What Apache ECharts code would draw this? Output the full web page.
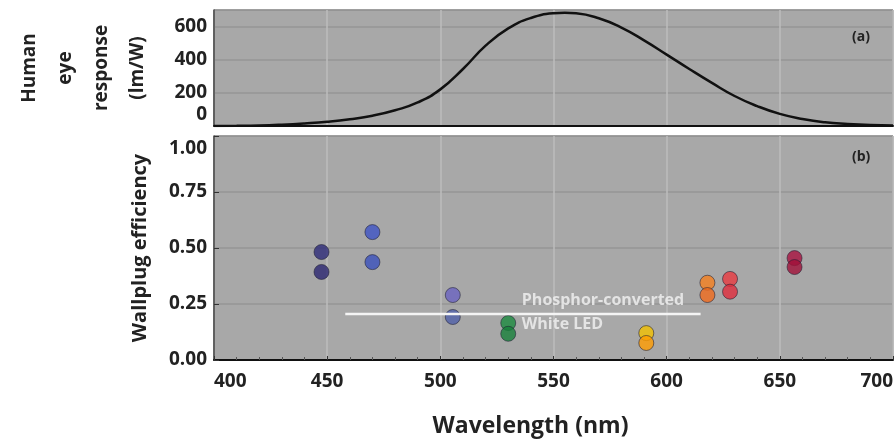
<!DOCTYPE html>
<html>
<head>
<meta charset="utf-8">
<script src="https://cdn.jsdelivr.net/npm/echarts@6/dist/echarts.min.js"></script>
<style>html,body{margin:0;padding:0;background:#fff;}#c{width:896px;height:443px;}</style>
</head>
<body>
<div id="c"></div>
<script>
// Human eye response (lm/W) vs wavelength (nm)
const eyeWavelengths = [400,410,420,430,440,450,460,470,480,490,500,510,520,530,540,550,555,560,570,580,590,600,610,620,630,640,650,660,670,680,690,700];
const eyeResponse    = [0.3,0.8,2.7,7.9,15.7,26,41,62,95,142,221,344,485,589,652,680,683,680,650,594,517,431,344,260,181,120,73,42,22,12,5.6,2.8];

// Wallplug efficiency points, panel (b): [wavelength, efficiency]
const ledWavelengths = [447.5,447.5,470,470,505.5,505.5,530,530,591,591,618,618,628,628,656.5,656.5];
const ledEfficiency  = [0.482,0.393,0.571,0.437,0.29,0.192,0.165,0.117,0.12,0.076,0.345,0.29,0.362,0.305,0.455,0.415];
const ledColors      = ['#2d2a78','#2b2670','#3d52c4','#3a50bc','#6a63c0','#4f5fa8','#1c8a3e','#16803a','#f3c000','#ff9c00','#f5801e','#f06a1c','#e83a40','#e02c3c','#a8123e','#a01038'];

// Phosphor-converted white LED band
const whiteLedRange = [458, 615];
const whiteLedEff = 0.205;

const xTicks = [400,450,500,550,600,650,700];

const chart = echarts.init(document.getElementById('c'), null, {renderer:'canvas'});
const FONT = 'Open Sans';
const bg = '#a8a8a8';
const lblStyle = {color:'#222', fontFamily:FONT, fontWeight:'bold', fontSize:19};

const option = {
  backgroundColor: '#ffffff',
  animation: false,
  grid: [
    {left:214, right:3, top:10, height:116, show:true, backgroundColor:bg, borderColor:'#7a7a7a', borderWidth:1, outerBoundsMode:'none', containLabel:false},
    {left:214, right:3, top:136, height:224, show:true, backgroundColor:bg, borderColor:'#7a7a7a', borderWidth:1, outerBoundsMode:'none', containLabel:false}
  ],
  xAxis: [
    {gridIndex:0, type:'value', min:xTicks[0], max:xTicks[xTicks.length-1], interval:50,
     axisLabel:{show:false}, axisTick:{show:false},
     axisLine:{show:true, onZero:false, lineStyle:{color:'#111', width:2}},
     splitLine:{show:true, lineStyle:{color:'#bdbdbd', width:1.5}}},
    {gridIndex:1, type:'value', min:xTicks[0], max:xTicks[xTicks.length-1], interval:50,
     axisLabel:Object.assign({show:true, margin:12, alignMinLabel:'left', alignMaxLabel:'right'}, lblStyle),
     axisTick:{show:true, inside:true, length:4, lineStyle:{color:'#333'}},
     minorTick:{show:true, splitNumber:5, length:3, lineStyle:{color:'#555'}},
     axisLine:{show:true, onZero:false, lineStyle:{color:'#111', width:2}},
     splitLine:{show:true, lineStyle:{color:'#bdbdbd', width:1.5}},
     name:'Wavelength (nm)', nameLocation:'middle', nameGap:55,
     nameTextStyle:{color:'#222', fontFamily:FONT, fontWeight:'bold', fontSize:23, padding:[0,46,0,0]}}
  ],
  yAxis: [
    {gridIndex:0, type:'value', min:0, max:700, interval:200,
     axisLabel:Object.assign({show:true, showMaxLabel:false, margin:7,
       formatter: v => v === 0 ? '{low|0}' : String(v),
       rich:{low:Object.assign({padding:[0,0,22,0]}, lblStyle)}}, lblStyle),
     axisTick:{show:false},
     axisLine:{show:true, lineStyle:{color:'#444', width:1.5}},
     splitLine:{show:true, lineStyle:{color:'#969696', width:1.5}},
     name:'Human\neye\nresponse\n(lm/W)', nameLocation:'middle', nameRotate:90, nameGap:58,
     nameTextStyle:{color:'#222', fontFamily:FONT, fontWeight:'bold', fontSize:19, lineHeight:36, align:'center'}},
    {gridIndex:1, type:'value', min:0, max:1, interval:0.25,
     axisLabel:Object.assign({show:true, margin:7,
       formatter: v => v === 1 ? '{high|1.00}' : v.toFixed(2),
       rich:{high:Object.assign({padding:[26,0,0,0]}, lblStyle)}}, lblStyle),
     axisTick:{show:true, inside:true, length:5, lineStyle:{color:'#333'}},
     axisLine:{show:true, lineStyle:{color:'#444', width:1.5}},
     splitLine:{show:true, lineStyle:{color:'#969696', width:1.5}},
     name:'Wallplug efficiency', nameLocation:'middle', nameRotate:90, nameGap:64,
     nameTextStyle:{color:'#222', fontFamily:FONT, fontWeight:'bold', fontSize:20}}
  ],
  graphic: [
    {type:'text', left:852, top:30, style:{text:'(a)', fill:'#222', font:'bold 14px "Open Sans"'}},
    {type:'text', left:852, top:150, style:{text:'(b)', fill:'#222', font:'bold 14px "Open Sans"'}}
  ],
  series: [
    {type:'line', xAxisIndex:0, yAxisIndex:0, smooth:true, showSymbol:false, symbol:'none',
     lineStyle:{color:'#111', width:2.5},
     data: eyeWavelengths.map((w,i)=>[w, eyeResponse[i]])},
    {type:'line', xAxisIndex:1, yAxisIndex:1, showSymbol:false, symbol:'none',
     lineStyle:{color:'#f4f4f4', width:2.5},
     data: [[whiteLedRange[0], whiteLedEff],[whiteLedRange[1], whiteLedEff]]},
    {type:'scatter', xAxisIndex:1, yAxisIndex:1, symbolSize:0, silent:true,
     label:{show:true, position:'right', distance:0, color:'#f2f2f2', fontFamily:FONT, fontWeight:'bold', fontSize:16, lineHeight:24,
       formatter:'Phosphor-converted\nWhite LED'},
     data: [[536, 0.213]]},
    {type:'scatter', xAxisIndex:1, yAxisIndex:1, symbolSize:15,
     data: ledWavelengths.map((w,i)=>({value:[w, ledEfficiency[i]], itemStyle:{color:ledColors[i], borderColor:'rgba(30,30,50,0.7)', borderWidth:1}}))}
  ]
};
chart.setOption(option);
</script>
</body>
</html>
